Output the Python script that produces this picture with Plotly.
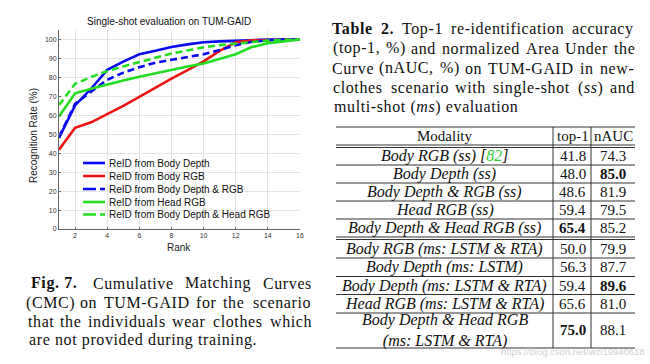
import re
import plotly.graph_objects as go

# ---------------- data ----------------
ranks = list(range(1, 17))
body_depth = [48.0, 65.2, 74.0, 84.0, 88.3, 92.2, 94.0, 96.0, 97.4, 98.5, 99.0, 99.4, 99.7, 99.9, 100, 100]
body_rgb = [41.8, 53.4, 56.3, 60.6, 65.0, 69.7, 74.6, 79.4, 83.8, 88.5, 94.0, 98.5, 99.5, 99.8, 100, 100]
body_depth_rgb = [48.6, 66.0, 72.5, 78.7, 82.5, 85.4, 87.8, 89.4, 90.6, 92.2, 94.5, 97.0, 98.8, 99.6, 100, 100]
head_rgb = [59.4, 71.6, 74.0, 76.3, 78.4, 80.3, 82.2, 84.1, 85.7, 87.3, 89.6, 92.2, 96.0, 98.0, 99.0, 100]
depth_head_rgb = [65.4, 76.6, 80.2, 83.3, 85.8, 88.2, 90.3, 92.6, 94.2, 95.9, 97.0, 97.9, 98.7, 99.4, 99.8, 100]

series_names = ["ReID from Body Depth", "ReID from Body RGB", "ReID from Body Depth & RGB",
                 "ReID from Head RGB", "ReID from Body Depth & Head RGB"]
series_values = [body_depth, body_rgb, body_depth_rgb, head_rgb, depth_head_rgb]
series_colors = ["#0a0af0", "#ee1111", "#0a0af0", "#22dd22", "#22dd22"]
series_dash = ["solid", "solid", "7px,4px", "solid", "7px,4px"]

y_ticks = list(range(0, 101, 10))
x_ticks = list(range(2, 17, 2))

table_modality = ["<i>Body RGB (ss) [<span style='color:#33cc33'>82</span>]</i>",
                  "<i>Body Depth (ss)</i>",
                  "<i>Body Depth &amp; RGB (ss)</i>",
                  "<i>Head RGB (ss)</i>",
                  "<i>Body Depth &amp; Head RGB (ss)</i>",
                  "<i>Body RGB (ms: LSTM &amp; RTA)</i>",
                  "<i>Body Depth (ms: LSTM)</i>",
                  "<i>Body Depth (ms: LSTM &amp; RTA)</i>",
                  "<i>Head RGB (ms: LSTM &amp; RTA)</i>",
                  "<i>Body Depth &amp; Head RGB</i><br><i>(ms: LSTM &amp; RTA)</i>"]
table_top1 = ["41.8", "48.0", "48.6", "59.4", "<b>65.4</b>", "50.0", "56.3", "59.4", "65.6", "<b>75.0</b>"]
table_nauc = ["74.3", "<b>85.0</b>", "81.9", "79.5", "85.2", "79.9", "87.7", "<b>89.6</b>", "81.0", "88.1"]

W, H = 650, 364


def px(x):
    return x / W


def py(y):
    return 1 - y / H


fig = go.Figure()
for name, vals, col, dash in zip(series_names, series_values, series_colors, series_dash):
    fig.add_trace(go.Scatter(x=ranks, y=vals, mode="lines", name=name,
                             line=dict(color=col, width=2.6, dash=dash),
                             showlegend=False, cliponaxis=False))

SANS = "Liberation Sans, Arial, sans-serif"
SERIF = "Liberation Serif, Times New Roman, serif"

annotations = []
shapes = []


def note(x, y, text, size, family, xanchor="center", color="#111", **kw):
    annotations.append(dict(x=px(x), y=py(y), xref="paper", yref="paper", text=text, showarrow=False,
                            xanchor=xanchor, yanchor="middle", font=dict(family=family, size=size, color=color),
                            **kw))


# chart title and axis labels
note(169, 21, "Single-shot evaluation on TUM-GAID", 10, SANS)
note(179, 247, "Rank", 10, SANS, color="#222")
note(33, 136, "Recognition Rate (%)", 10, SANS, color="#222", textangle=-90)

# manual compact legend
leg_y = [163, 176, 189, 202, 214.5]
for name, col, dash, yy in zip(series_names, series_colors, series_dash, leg_y):
    shapes.append(dict(type="line", xref="paper", yref="paper", x0=px(83), x1=px(105), y0=py(yy), y1=py(yy),
                       line=dict(color=col, width=2.6, dash=("13px,4px" if dash != "solid" else "solid"))))
    note(106.5, yy, name, 10, SANS, xanchor="left")

LS = "letter-spacing:0.6px"


def spaced(t):
    return "<span style='%s'>%s</span>" % (LS, t)


# justified caption text helper
def char_w(c):
    if c.isupper():
        return 0.68
    if c.isdigit():
        return 0.5
    if c in ".,:;'!|()[]-":
        return 0.33
    if c == "%":
        return 0.83
    if c in "mw":
        return 0.75
    if c in "iltfjr":
        return 0.3
    return 0.48


def justify(words, x0, x1, y, size):
    plain = [re.sub(r"<[^>]+>", "", w) for w in words]
    widths = [sum(char_w(c) for c in p) * size + 0.6 * len(p) for p in plain]
    gap = (x1 - x0 - sum(widths)) / max(len(words) - 1, 1)
    x = x0
    for w, ww in zip(words, widths):
        note(x + ww / 2, y, spaced(w), size, SERIF)
        x += ww + gap


# Figure caption (left)
FS = 16
justify(["<b>Fig. 7.</b>", "Cumulative", "Matching", "Curves"], 27, 312, 283, FS)
justify(["(CMC)", "on", "TUM-GAID", "for", "the", "scenario"], 27, 312, 302.5, FS)
justify(["that", "the", "individuals", "wear", "clothes", "which"], 27, 312, 321.5, FS)
note(27, 340, spaced("are not provided during training."), FS, SERIF, xanchor="left")

# Table caption (right)
justify(["<b>Table</b>", "<b>2.</b>", "Top-1", "re-identification", "accuracy"], 332, 635, 29, FS)
justify(["(top-1,", "%)", "and", "normalized", "Area", "Under", "the"], 332, 635, 48.5, FS)
justify(["Curve", "(nAUC,", "%)", "on", "TUM-GAID", "in", "new-"], 332, 635, 68, FS)
justify(["clothes", "scenario", "with", "single-shot", "(<i>ss</i>)", "and"], 332, 635, 87.5, FS)
note(332, 107, spaced("multi-shot (<i>ms</i>) evaluation"), FS, SERIF, xanchor="left")

# Table
TL, TR = 336, 635
C1, C2 = 553, 591
LC = "#333"
hlines = [127, 145, 147.5, 165, 183, 201, 219, 237, 239.5, 258, 276.5, 294.5, 313, 348]
for yy in hlines:
    shapes.append(dict(type="line", xref="paper", yref="paper", x0=px(TL), x1=px(TR), y0=py(yy), y1=py(yy),
                       line=dict(color=LC, width=1)))
for xx in (C1, C2):
    shapes.append(dict(type="line", xref="paper", yref="paper", x0=px(xx), x1=px(xx), y0=py(127), y1=py(348),
                       line=dict(color=LC, width=1)))

col_mod = (TL + C1) / 2
col_t1 = (C1 + C2) / 2 + 0.5
col_na = (C2 + TR) / 2
hdr_y = 136
for txt, xx in (("Modality", col_mod), ("top-1", col_t1), ("nAUC", col_na)):
    note(xx, hdr_y, txt, 15, SERIF)
row_y = [156, 174, 192, 210, 228, 249, 267, 285.5, 303.5, 330]
for m, t, n, yy in zip(table_modality, table_top1, table_nauc, row_y):
    note(col_mod, yy, m, 16, SERIF)
    note(col_t1, yy, t, 15, SERIF)
    note(col_na, yy, n, 15, SERIF)

# watermark
note(647, 351, "https://blog.csdn.net/wzl19940618", 9.5, SANS, xanchor="right", color="rgba(195,195,195,0.8)")

fig.update_layout(
    width=W, height=H,
    autosize=False,
    margin=dict(l=0, r=0, t=0, b=0, pad=0, autoexpand=False),
    paper_bgcolor="white", plot_bgcolor="white",
    showlegend=False,
    xaxis=dict(domain=[px(59), px(300)], range=[1, 16], tickvals=x_ticks, showgrid=True, automargin=False,
               gridcolor="#e4e4e4", gridwidth=1, zeroline=False, showline=True, linecolor="#666",
               linewidth=1, ticks="inside", ticklen=2, tickcolor="#666",
               tickfont=dict(family=SANS, size=7, color="#333")),
    yaxis=dict(domain=[py(229), py(30)], range=[0, 105], tickvals=y_ticks, showgrid=True, automargin=False,
               gridcolor="#e4e4e4", gridwidth=1, zeroline=False, showline=True, linecolor="#666",
               linewidth=1, ticks="inside", ticklen=2, tickcolor="#666",
               tickfont=dict(family=SANS, size=7, color="#333")),
    annotations=annotations,
    shapes=shapes,
)

fig.write_html("out.html", config={"displayModeBar": False},
               post_script="document.body.style.margin='0';document.body.style.overflow='hidden';")
